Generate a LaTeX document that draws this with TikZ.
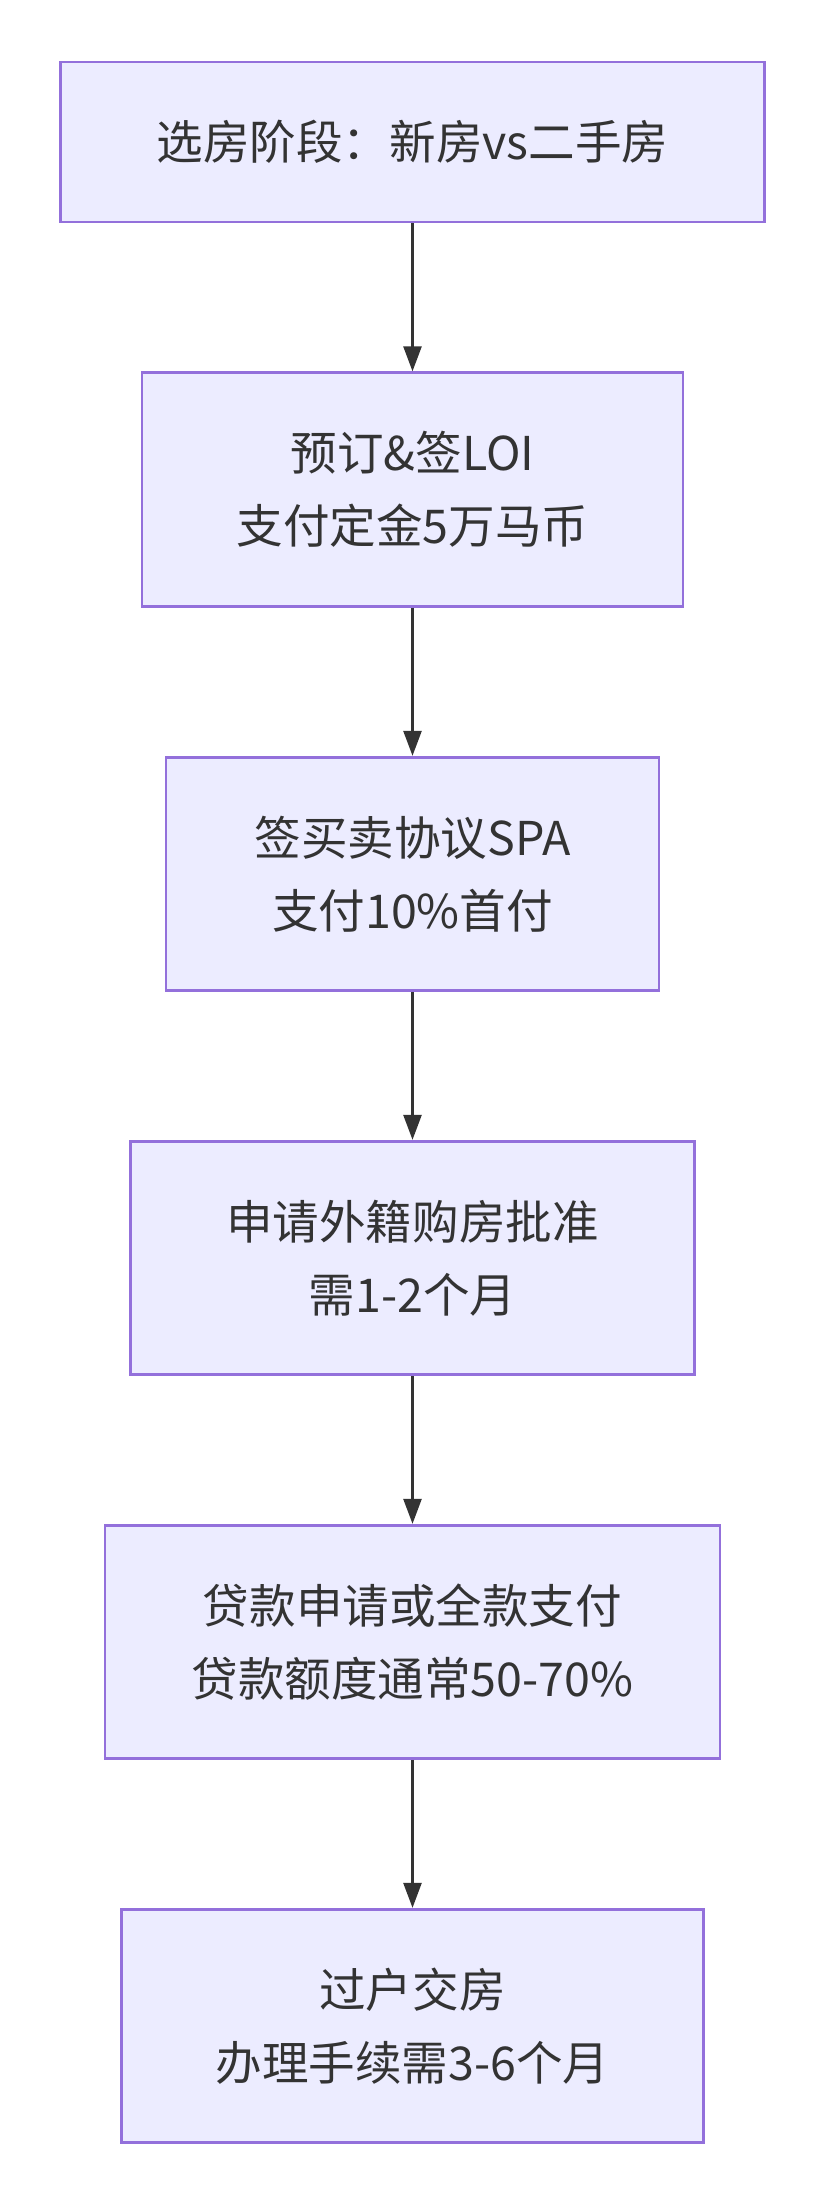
\documentclass[tikz,border=0pt]{standalone}
\usepackage{fontspec}
\setmainfont{Noto Sans CJK SC}
\usetikzlibrary{%
  arrows.meta,%
  positioning% wg. " of "
}
\definecolor{boxfill}{HTML}{ECECFF}
\definecolor{boxline}{HTML}{9370DB}
\definecolor{inkgray}{HTML}{333333}

\begin{document}
\begin{tikzpicture}
[font=\fontsize{26.5}{41.5}\selectfont, text=inkgray, >={Triangle[length=0.5cm, width=0.36cm]},
stagebox/.style={rectangle, draw=boxline, fill=boxfill, line width=1.6pt, align=center, inner sep=0pt, minimum height=4.67cm},
flow/.style={->, draw=inkgray, line width=1.4pt}]

\useasboundingbox (0,0) rectangle (16.52,-44.10);

\node[stagebox, minimum width=14.07cm, minimum height=3.20cm] (stage1) at (8.25,-2.84) {选房阶段：新房vs二手房};
\node[stagebox, minimum width=10.82cm] (stage2) at (8.25,-9.79) {预订\&签LOI\\支付定金5万马币};
\node[stagebox, minimum width=9.86cm]  (stage3) at (8.25,-17.48) {签买卖协议SPA\\支付10\%首付};
\node[stagebox, minimum width=11.28cm] (stage4) at (8.25,-25.16) {申请外籍购房批准\\需1-2个月};
\node[stagebox, minimum width=12.30cm] (stage5) at (8.25,-32.84) {贷款申请或全款支付\\贷款额度通常50-70\%};
\node[stagebox, minimum width=11.65cm] (stage6) at (8.25,-40.52) {过户交房\\办理手续需3-6个月};

\foreach \a/\b in {stage1/stage2, stage2/stage3, stage3/stage4, stage4/stage5, stage5/stage6} {
  \draw[flow] (\a.south) -- (\b.north);
}
\end{tikzpicture}
\end{document}
